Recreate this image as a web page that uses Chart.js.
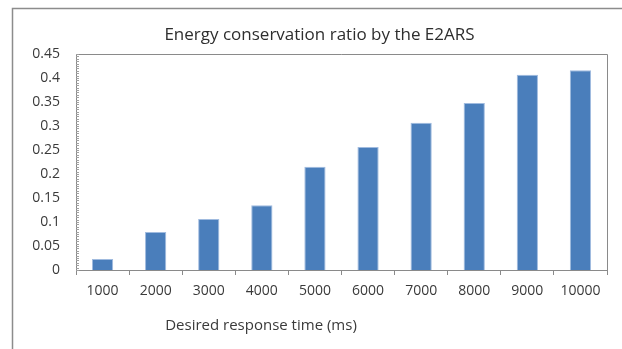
<!DOCTYPE html>
<html>
<head>
<meta charset="utf-8">
<script src="https://cdn.jsdelivr.net/npm/chart.js@4/dist/chart.umd.min.js"></script>
<style>
  html, body { margin: 0; padding: 0; background: #ffffff; }
  #wrap { width: 622px; height: 349px; }
</style>
</head>
<body>
<div id="wrap"><canvas id="c" width="622" height="349"></canvas></div>
<script>
// Desired response time categories (ms)
const categories = ['1000', '2000', '3000', '4000', '5000', '6000', '7000', '8000', '9000', '10000'];
// Energy conservation ratio per response time
const ratios = [0.023, 0.079, 0.106, 0.135, 0.215, 0.256, 0.307, 0.348, 0.407, 0.416];
// Value axis ticks
const yTicks = [0, 0.05, 0.1, 0.15, 0.2, 0.25, 0.3, 0.35, 0.4, 0.45];
const yTickLabels = ['0', '0.05', '0.1', '0.15', '0.2', '0.25', '0.3', '0.35', '0.4', '0.45'];
const yMinorStep = 0.005;

const chartTitle = 'Energy conservation ratio by the E2ARS';
const xAxisTitle = 'Desired response time (ms)';

const FONT = '"Open Sans", "DejaVu Sans", sans-serif';
const AXIS_GRAY = '#8a8a8a';
const TEXT = '#3a3a3a';

// Outer frame, plot-area frame, minor ticks on the value axis and text
const decorations = {
  id: 'decorations',
  beforeDraw(chart) {
    const ctx = chart.ctx;
    ctx.save();
    ctx.fillStyle = '#ffffff';
    ctx.fillRect(0, 0, chart.width, chart.height);
    ctx.strokeStyle = '#8c8c8c';
    ctx.lineWidth = 1.5;
    ctx.strokeRect(12.5, 8.5, chart.width + 20, chart.height + 20);
    ctx.restore();
  },
  afterDraw(chart) {
    const ctx = chart.ctx;
    const a = chart.chartArea;
    const y = chart.scales.y;
    ctx.save();
    // plot area top and right edges
    ctx.strokeStyle = AXIS_GRAY;
    ctx.lineWidth = 1;
    ctx.beginPath();
    ctx.moveTo(a.left, a.top + 0.5);
    ctx.lineTo(a.right + 0.5, a.top + 0.5);
    ctx.lineTo(a.right + 0.5, a.bottom);
    ctx.stroke();
    // minor ticks inside the value axis
    ctx.strokeStyle = '#a0a0a0';
    const n = Math.round((y.max - y.min) / yMinorStep);
    ctx.beginPath();
    for (let i = 0; i <= n; i++) {
      const py = Math.round(y.getPixelForValue(y.min + i * yMinorStep)) + 0.5;
      ctx.moveTo(a.left, py);
      ctx.lineTo(a.left + 3, py);
    }
    ctx.stroke();
    // title
    ctx.fillStyle = '#2e2e2e';
    ctx.font = '17px ' + FONT;
    ctx.textAlign = 'center';
    ctx.textBaseline = 'middle';
    ctx.fillText(chartTitle, 319.5, 35);
    // category axis title
    ctx.fillStyle = TEXT;
    ctx.font = '15px ' + FONT;
    ctx.fillText(xAxisTitle, 261, 326);
    ctx.restore();
  }
};

new Chart(document.getElementById('c'), {
  type: 'bar',
  data: {
    labels: categories,
    datasets: [{
      data: ratios,
      backgroundColor: '#4a7ebb',
      borderColor: 'rgba(150,180,220,0.9)',
      borderWidth: 1,
      categoryPercentage: 1,
      barPercentage: 0.4
    }]
  },
  options: {
    responsive: false,
    animation: false,
    devicePixelRatio: 1,
    layout: { padding: { top: 54, right: 15, left: 0, bottom: 0 } },
    plugins: {
      legend: { display: false },
      title: { display: false },
      tooltip: { enabled: false }
    },
    scales: {
      x: {
        grid: { display: true, drawOnChartArea: false, drawTicks: true, tickLength: 5, color: AXIS_GRAY, offset: true },
        border: { display: true, color: AXIS_GRAY, width: 1 },
        ticks: { color: TEXT, font: { family: FONT, size: 14 }, padding: 8, maxRotation: 0, autoSkip: false },
        afterFit(s) { s.height = 79; }
      },
      y: {
        min: 0,
        max: 0.45,
        afterBuildTicks(s) { s.ticks = yTicks.map(v => ({ value: v })); },
        grid: { display: false, drawTicks: false },
        border: { display: true, color: AXIS_GRAY, width: 1 },
        ticks: {
          color: TEXT,
          font: { family: FONT, size: 14 },
          padding: 16,
          callback(value) {
            const i = yTicks.findIndex(t => Math.abs(t - value) < 1e-9);
            return i >= 0 ? yTickLabels[i] : '';
          }
        },
        afterFit(s) { s.width = 76; }
      }
    }
  },
  plugins: [decorations]
});
</script>
</body>
</html>
